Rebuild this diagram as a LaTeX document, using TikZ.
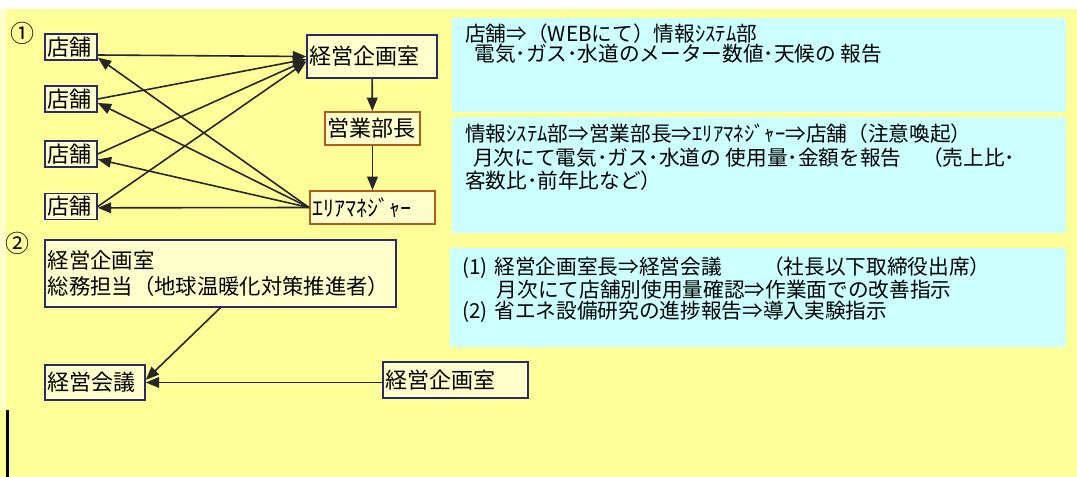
\documentclass[tikz,border=0pt]{standalone}
\usepackage{fontspec}
\setmainfont{Noto Sans CJK JP}
\usetikzlibrary{arrows.meta, positioning}
\definecolor{bgyellow}{HTML}{FFFF99}
\definecolor{boxyellow}{HTML}{FFFFCC}
\definecolor{memocyan}{HTML}{CCFFFF}
\definecolor{navyline}{HTML}{2A2A66}
\definecolor{orangeline}{HTML}{B35A1F}

\begin{document}
\begin{tikzpicture}[x=0.75pt, y=-0.75pt,
        orgbox/.style={rectangle, draw=navyline, line width=1.2pt, fill=boxyellow, align=left, inner xsep=2pt, inner ysep=0pt, font=\fontsize{16.5}{19}\selectfont},
        mgrbox/.style={orgbox, draw=orangeline},
        shopbox/.style={orgbox, text width=35pt, minimum height=19.5pt},
        memotext/.style={anchor=north west, inner sep=0pt, align=left, font=\fontsize{15.5}{#1}\selectfont},
        memotext/.default=15pt,
        flow/.style={-{Triangle[length=10pt, width=8pt]}, line width=1.2pt, draw=black!85}
    ]

    % background and memo panels
    \fill[white] (0,0) rectangle (1077,477);
    \fill[bgyellow] (0,9) rectangle (1077,477);
    \fill[boxyellow] (0,9) rectangle (6,410);
    \useasboundingbox (0,0) rectangle (1077,477);
    \fill[memocyan] (452,18) rectangle (1066,112);
    \fill[memocyan] (452,117) rectangle (1066,233);
    \fill[memocyan] (450,248) rectangle (1066,347);
    \draw[line width=2.25pt] (7.5,410) -- (7.5,477);

    % section 1
    \node[font=\fontsize{18}{18}\selectfont, inner sep=0pt] (num1) at (22,33) {①};
    \node[shopbox] (tenpo1) at (71,47) {店舗};
    \node[shopbox] (tenpo2) at (71,99) {店舗};
    \node[shopbox] (tenpo3) at (71,154) {店舗};
    \node[shopbox] (tenpo4) at (71,206.5) {店舗};
    \node[orgbox, text width=93.5pt, minimum height=32pt] (keiei) at (372,56.5) {経営企画室};
    \node[mgrbox, text width=67pt, minimum height=25pt] (eigyo) at (372.5,128.5) {営業部長};
    \node[mgrbox, text width=90pt, minimum height=25pt] (area) at (372.5,207.5) {ｴﾘｱﾏﾈｼﾞｬｰ};

    \draw[flow] ([yshift=-6pt]tenpo1.east) -- (keiei.west);
    \draw[flow] (tenpo2.east) -- ([yshift=-2pt]keiei.west);
    \draw[flow] (tenpo3.east) -- ([yshift=-3pt]keiei.west);
    \draw[flow] (tenpo4.east) -- ([yshift=-4pt]keiei.west);
    \foreach \s/\d in {1/-8pt, 2/-3pt, 3/-4pt, 4/-1pt}
        \draw[flow] (area.west) -- ([yshift=\d]tenpo\s.east);
    \draw[flow] (keiei) -- (eigyo);
    \draw[flow] (eigyo) -- (area);

    \node[memotext] (memo1) at (465,24) {店舗⇒（WEBにて）情報ｼｽﾃﾑ部\\\hspace*{7pt}電気･ガス･水道のメーター数値･天候の 報告};
    \node[memotext=17.6pt] (memo2) at (465,124) {情報ｼｽﾃﾑ部⇒営業部長⇒ｴﾘｱﾏﾈｼﾞｬｰ⇒店舗（注意喚起）\\\hspace*{6pt}月次にて電気･ガス･水道の 使用量･金額を報告　（売上比･\\客数比･前年比など）};

    % section 2
    \node[font=\fontsize{18}{18}\selectfont, inner sep=0pt] (num2) at (18,243) {②};
    \node[orgbox, text width=259pt, minimum height=50pt, font=\fontsize{16}{19.5}\selectfont] (soumu) at (220.5,273.5) {経営企画室\\総務担当（地球温暖化対策推進者）};
    \node[orgbox, text width=71pt, minimum height=26pt] (kaigi) at (95,382.5) {経営会議};
    \node[orgbox, text width=104.75pt, minimum height=27pt] (keiei2) at (455.5,380) {経営企画室};

    \draw[flow] (soumu.south) -- ([yshift=2pt]kaigi.east);
    \draw[flow] (keiei2.west |- kaigi.east) -- (kaigi.east);

    \node[memotext=15.4pt] (memo3) at (462,257) {(1)\hspace{5pt}経営企画室長⇒経営会議　　（社長以下取締役出席）\\\hspace*{26pt}月次にて店舗別使用量確認⇒作業面での改善指示\\(2)\hspace{5pt}省エネ設備研究の進捗報告⇒導入実験指示};

\end{tikzpicture}
\end{document}
